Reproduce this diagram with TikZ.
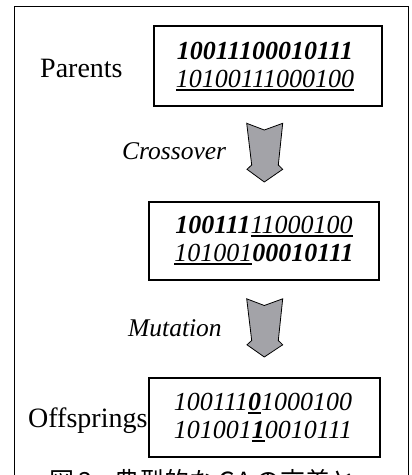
\documentclass[tikz,border=0pt]{standalone}
\usepackage{fontspec}
\setmainfont{Liberation Serif}
\newfontfamily\cjk{Noto Sans CJK JP}
\definecolor{arrowgray}{HTML}{A3A3A8}
\newsavebox\ulbox
\newcommand\ulbits[1]{\sbox\ulbox{#1}\rlap{\rule[-3.6pt]{\wd\ulbox}{1.2pt}}\usebox\ulbox\relax}
\tikzset{
  frame/.style={draw=black, line width=1pt},
  boxthick/.style={draw=black, line width=2pt, minimum width=228pt, minimum height=80pt, inner sep=0pt},
  boxthin/.style={draw=black, line width=1.4pt, minimum width=230pt, minimum height=78pt, inner sep=0pt},
  bits/.style={anchor=base, inner sep=0pt, font=\fontsize{26}{29}\selectfont\itshape},
  label/.style={anchor=base west, inner sep=0pt, font=\fontsize{28}{31}\selectfont},
  oplabel/.style={anchor=base west, inner sep=0pt, font=\fontsize{25.5}{28}\selectfont\itshape},
  garrow/.style={draw=black, line width=0.8pt, fill=arrowgray, line join=miter},
}
\newcommand\blockarrow[2]{%
  \path[garrow] ([shift={(-17.6,0)}]#1) -- ([shift={(0,6.7)}]#1) -- ([shift={(18.4,0)}]#1)
    -- ([shift={(14,41.7)}]#1) -- ([shift={(18.4,46)}]#1) -- #2
    -- ([shift={(-17.3,46)}]#1) -- ([shift={(-12.6,41.7)}]#1) -- cycle;}
\begin{document}
\begin{tikzpicture}[x=1pt,y=-1pt]
\useasboundingbox (0,0) rectangle (412,475);
\clip (0,0) rectangle (412,475);
\draw[frame] (14,6) rectangle (408,495);
% boxes
\node[boxthick] (parbox) at (268,66) {};
\node[boxthin] (crossbox) at (264,241) {};
\node[boxthin, minimum width=231pt, minimum height=79pt] (offbox) at (264.5,417.5) {};
% labels
\node[label] (parents) at (40,77) {Parents};
\node[label] (offsprings) at (28,427) {Offsprings};
\node[oplabel] (crossover) at (122,159) {Crossover};
\node[oplabel] (mutation) at (128,336) {Mutation};
% bits
\node[bits] (p1) at (265,59) {\bfseries 10011100010111};
\node[bits] (p2) at (265,87) {\ulbits{10100111000100}};
\node[bits] (c1) at (264,233) {\textbf{100111}\ulbits{11000100}};
\node[bits] (c2) at (264,261) {\ulbits{101001}\textbf{00010111}};
\node[bits] (o1) at (263,410) {100111\ulbits{\textbf{0}}1000100};
\node[bits] (o2) at (263,438) {101001\ulbits{\textbf{1}}0010111};
% arrows
\coordinate (a1top) at (264.3,123.3);
\coordinate (a1tip) at (264.3,182);
\coordinate (a2top) at (264.3,298.8);
\coordinate (a2tip) at (264.3,357);
\blockarrow{a1top}{(a1tip)}
\blockarrow{a2top}{(a2tip)}
% caption (cut off at the lower edge, as in the reference)
\node[anchor=base west, inner sep=0pt, font=\cjk\fontsize{25}{28}\selectfont] (caption) at (49,490) {図\,3\hspace{0.9em}典型的な\,GA\,の交差と};
\end{tikzpicture}
\end{document}
